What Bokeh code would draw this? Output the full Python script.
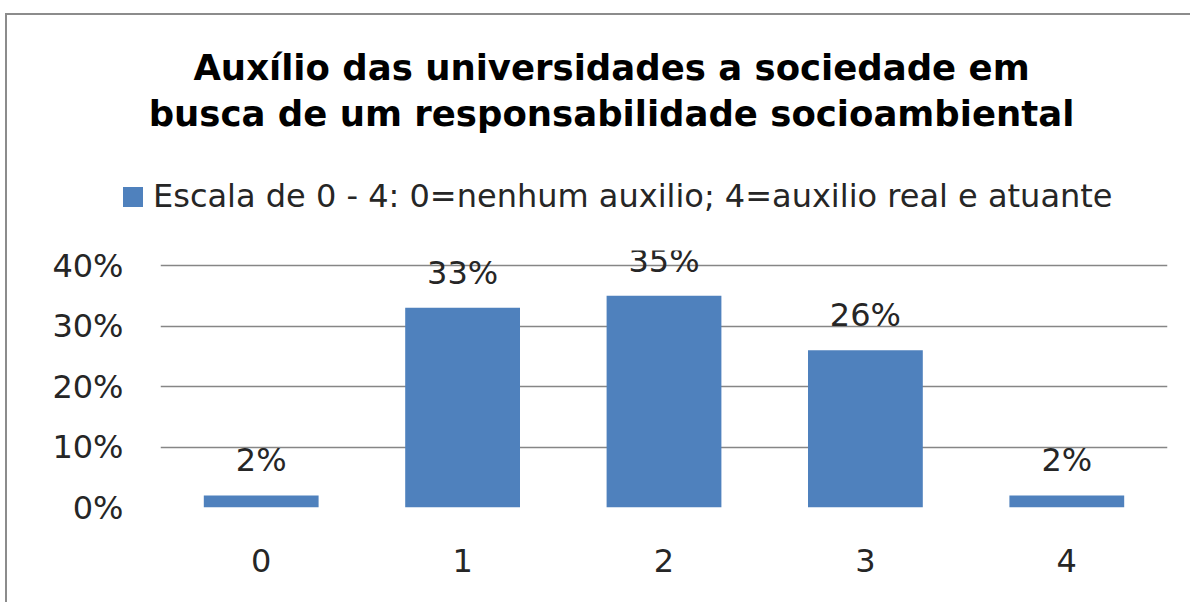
from bokeh.plotting import figure
from bokeh.models import (ColumnDataSource, LabelSet, Label, Legend, LegendItem,
                          FactorRange, Range1d, NumeralTickFormatter)
from bokeh.core.properties import value
from bokeh.embed import file_html
from bokeh.resources import INLINE

categories = ["0", "1", "2", "3", "4"]
values = [0.02, 0.33, 0.35, 0.26, 0.02]
value_labels = ["2%", "33%", "35%", "26%", "2%"]
y_ticks = [0, 0.1, 0.2, 0.3, 0.4]
title_lines = ["Auxílio das universidades a sociedade em",
               "busca de um responsabilidade socioambiental"]
series_name = "Escala de 0 - 4: 0=nenhum auxilio; 4=auxilio real e atuante"

FONT = "DejaVu Sans"
BAR = "#4f81bd"
TXT = "#262626"
BORDER = "2px solid #8c8c8c"

W = 1185
HEAD_H = 220

# ---------------- header (title + legend) ----------------
head = figure(width=W, height=HEAD_H, x_range=Range1d(0, W), y_range=Range1d(0, HEAD_H),
              output_backend="svg", toolbar_location=None,
              min_border=0, min_border_left=0, min_border_right=0,
              min_border_top=0, min_border_bottom=0,
              styles={"border-left": BORDER, "border-top": BORDER,
                      "margin-left": "5px", "margin-top": "13px"})
head.axis.visible = False
head.grid.visible = False
head.outline_line_color = None
head.background_fill_color = "white"
head.border_fill_color = "white"

for i, line in enumerate(title_lines):
    head.add_layout(Label(x=604, y=168 - 46 * i, text=line, text_align="center",
                          text_baseline="alphabetic", text_font=FONT,
                          text_font_size="35.5px", text_font_style="bold",
                          text_color="black"))

legend_src = ColumnDataSource(dict(x=[float("nan")], top=[float("nan")]))
dummy = head.vbar(x="x", top="top", width=1, source=legend_src,
                  fill_color=BAR, line_color=None)
legend = Legend(items=[LegendItem(label=series_name, renderers=[dummy])],
                location=(113, 20), orientation="horizontal",
                glyph_width=25, glyph_height=25, label_standoff=8,
                label_text_font=FONT, label_text_font_size="32px",
                label_text_color=TXT, padding=0, margin=0,
                border_line_color=None, background_fill_alpha=0)
head.add_layout(legend)

# ---------------- chart ----------------
src = ColumnDataSource(dict(cat=categories, val=values, lab=value_labels))

TOP_PAD = 17      # px between header and plot frame
FRAME_H = 257     # frame height in px
GRID_SPAN = 242   # px from 0% to 40%
y_end = y_ticks[-1] * FRAME_H / GRID_SPAN

p = figure(width=W, height=TOP_PAD + FRAME_H + 95,
           x_range=FactorRange(*categories, range_padding=0),
           y_range=Range1d(0, y_end), output_backend="svg", toolbar_location=None,
           min_border_left=153, min_border_right=25, min_border_top=TOP_PAD,
           min_border_bottom=95,
           styles={"border-left": BORDER, "margin-left": "5px"})
p.outline_line_color = None
p.background_fill_color = "white"
p.border_fill_color = "white"

p.vbar(x="cat", top="val", width=0.57, source=src, fill_color=BAR, line_color=None)

p.xgrid.grid_line_color = None
p.ygrid.grid_line_color = "#868686"
p.ygrid.grid_line_width = 1.3
p.ygrid.ticker = y_ticks

p.yaxis.ticker = y_ticks
p.yaxis.formatter = NumeralTickFormatter(format="0%")
p.yaxis.axis_line_color = None
p.yaxis.major_tick_line_color = None
p.yaxis.minor_tick_line_color = None
p.yaxis.major_tick_out = 0
p.yaxis.major_tick_in = 0
p.yaxis.major_label_standoff = 37
p.yaxis.major_label_text_font = FONT
p.yaxis.major_label_text_font_size = "32px"
p.yaxis.major_label_text_color = TXT

p.xaxis.axis_line_color = None
p.xaxis.major_tick_line_color = None
p.xaxis.major_tick_out = 0
p.xaxis.major_tick_in = 0
p.xaxis.major_label_standoff = 41
p.xaxis.major_label_text_font = FONT
p.xaxis.major_label_text_font_size = "32px"
p.xaxis.major_label_text_color = TXT

labels = LabelSet(x="cat", y="val", text="lab", source=src, y_offset=24,
                  text_align="center", text_baseline="alphabetic",
                  text_font=value(FONT), text_font_size=value("32px"),
                  text_color=TXT)
p.add_layout(labels)

open("out.html", "w").write(file_html([head, p], INLINE))
